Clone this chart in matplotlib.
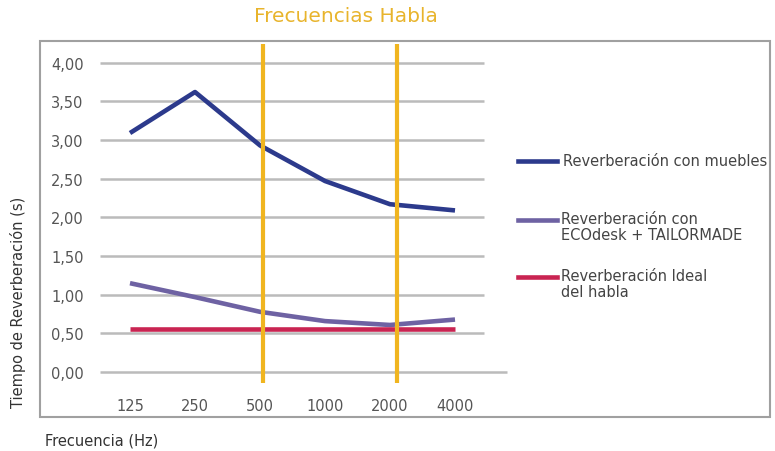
import matplotlib.pyplot as plt
from matplotlib.lines import Line2D
from matplotlib.patches import Rectangle

# data
freqs = ['125', '250', '500', '1000', '2000', '4000']
con_muebles = [3.09, 3.62, 2.93, 2.47, 2.17, 2.09]
con_ecodesk = [1.15, 0.97, 0.78, 0.66, 0.61, 0.68]
ideal = [0.56, 0.56, 0.56, 0.56, 0.56, 0.56]
y_ticks = [0, 0.5, 1, 1.5, 2, 2.5, 3, 3.5, 4]
habla_pos = [2.05, 4.1]   # vertical markers, category positions

blue = '#2c3a8c'
purple = '#6e62a3'
red = '#c92452'
yellow = '#f0b520'
grey_txt = '#555555'

plt.rcParams['font.family'] = ['DejaVu Sans']
fig = plt.figure(figsize=(7.75, 4.52), dpi=100)
ax = fig.add_axes([0.1258, 0.1504, 0.5368, 0.75])

x = list(range(len(freqs)))

# grid lines
for t in y_ticks:
    right = 5.8 if t == 0 else 5.44
    ax.hlines(t, -0.46, right, color='#bbbbbb', lw=1.8, zorder=1)

ax.plot(x, con_muebles, color=blue, lw=3.3, solid_capstyle='butt', zorder=3)
ax.plot(x, con_ecodesk, color=purple, lw=3.3, solid_capstyle='butt', zorder=3)
ax.plot(x, ideal, color=red, lw=3.3, solid_capstyle='butt', zorder=3)

for p in habla_pos:
    ax.axvline(p, color=yellow, lw=3, zorder=4)

ax.set_xlim(-0.5, 5.9)
ax.set_ylim(-0.14, 4.24)
ax.set_xticks(x)
ax.set_xticklabels(freqs)
ax.set_yticks(y_ticks)
ax.yaxis.set_major_formatter(plt.FuncFormatter(lambda v, p: ('%.2f' % v).replace('.', ',')))
ax.tick_params(length=0, colors=grey_txt, labelsize=10.5)
ax.tick_params(axis='y', pad=10)
ax.tick_params(axis='x', pad=11)
for s in ax.spines.values():
    s.set_visible(False)
ax.patch.set_alpha(0)

# outer frame
fig.add_artist(Rectangle((40 / 775, 1 - 418 / 452), 730 / 775, 376 / 452,
                         transform=fig.transFigure, fill=False,
                         edgecolor='#a0a0a0', lw=1.5))

fig.text(346 / 775, 1 - 17 / 452, 'Frecuencias Habla', color='#e8b42c',
         fontsize=14.5, ha='center', va='center')
fig.text(18 / 775, 1 - 302 / 452, 'Tiempo de Reverberación (s)', color='#333333',
         fontsize=10.5, rotation=90, ha='center', va='center')
fig.text(45 / 775, 1 - 441 / 452, 'Frecuencia (Hz)', color='#333333',
         fontsize=10.5, ha='left', va='center')

# legend
legend_items = [
    (blue, 'Reverberación con muebles', 162),
    (purple, 'Reverberación con\nECOdesk + TAILORMADE', 221),
    (red, 'Reverberación Ideal\ndel habla', 278),
]
for col, label, yy in legend_items:
    fy = 1 - yy / 452
    fig.add_artist(Line2D([518 / 775, 557 / 775], [fy, fy], color=col, lw=3.3,
                          transform=fig.transFigure))
    if '\n' in label:
        fig.text(561 / 775, fy + 9 / 452, label, color='#444444', fontsize=10.5,
                 ha='left', va='top', linespacing=1.1)
    else:
        fig.text(563 / 775, fy, label, color='#444444', fontsize=10.5,
                 ha='left', va='center')

fig.savefig('out.png', dpi=100)
